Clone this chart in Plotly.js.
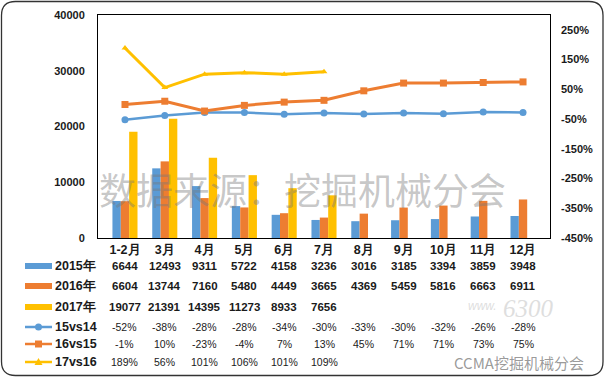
<!DOCTYPE html>
<html><head><meta charset="utf-8">
<script src="https://cdn.plot.ly/plotly-3.0.1.min.js"></script>
<style>html,body{margin:0;padding:0;background:#fff;}#chart{width:605px;height:378px;}</style>
</head><body><div id="chart"></div>
<script>
var categories = ['1-2月','3月','4月','5月','6月','7月','8月','9月','10月','11月','12月'];
var sales2015 = [6644,12493,9311,5722,4158,3236,3016,3185,3394,3859,3948];
var sales2016 = [6604,13744,7160,5480,4449,3665,4369,5459,5816,6663,6911];
var sales2017 = [19077,21391,14395,11273,8933,7656,null,null,null,null,null];
var g15vs14 = [-52,-38,-28,-28,-34,-30,-33,-30,-32,-26,-28];
var g16vs15 = [-1,10,-23,-4,7,13,45,71,71,73,75];
var g17vs16 = [189,56,101,106,101,109,null,null,null,null,null];
var seriesNames = ['2015年','2016年','2017年','15vs14','16vs15','17vs16'];
var leftTicks = [0,10000,20000,30000,40000];
var rightTicks = [-450,-350,-250,-150,-50,50,150,250];
var rightTickText = rightTicks.map(function(v){return v+'%';});
var leftTickText = leftTicks.map(function(v){return String(v);});

var BLUE='#5B9BD5', ORANGE='#ED7D31', YELLOW='#FFC000';
var FONT='Liberation Sans, Arial, sans-serif';
var TXT='#1a1a1a';

var traces = [
  {type:'bar', name:seriesNames[0], x:categories, y:sales2015, marker:{color:BLUE}, yaxis:'y'},
  {type:'bar', name:seriesNames[1], x:categories, y:sales2016, marker:{color:ORANGE}, yaxis:'y'},
  {type:'bar', name:seriesNames[2], x:categories, y:sales2017, marker:{color:YELLOW}, yaxis:'y'},
  {type:'scatter', mode:'lines+markers', name:seriesNames[3], x:categories, y:g15vs14, yaxis:'y2',
   line:{color:BLUE,width:2.5}, marker:{symbol:'circle',size:7,color:BLUE}},
  {type:'scatter', mode:'lines+markers', name:seriesNames[4], x:categories, y:g16vs15, yaxis:'y2',
   line:{color:ORANGE,width:3}, marker:{symbol:'square',size:7,color:ORANGE}},
  {type:'scatter', mode:'lines+markers', name:seriesNames[5], x:categories, y:g17vs16, yaxis:'y2',
   line:{color:YELLOW,width:3}, marker:{symbol:'triangle-up',size:6,color:YELLOW}}
];

// pixel helpers (plot area: x 98..550, y 15..238)
var PL=98, PW=452, PB=238, PH=223;
function px(x){return (x-PL)/PW;}
function py(y){return (PB-y)/PH;}

var rowY = [266,286,307,327,344,362];
var rows = [sales2015,sales2016,sales2017,g15vs14,g16vs15,g17vs16];
var annotations = [];
rows.forEach(function(arr, r){
  var isPct = r>=3;
  arr.forEach(function(v,i){
    if(v===null) return;
    annotations.push({xref:'x', yref:'paper', x:categories[i], y:py(rowY[r]), xanchor:'center', yanchor:'middle',
      text: isPct ? (v+'%') : String(v), showarrow:false,
      font:{family:FONT, size:isPct?10.5:11.5, color:TXT, weight:isPct?'normal':'bold'}});
  });
  annotations.push({xref:'paper', yref:'paper', x:px(53), y:py(rowY[r]), xanchor:'left', yanchor:'middle',
    text:seriesNames[r], showarrow:false, font:{family:FONT, size:12.5, color:TXT, weight:'bold'}});
});
// watermarks
annotations.push({xref:'paper', yref:'paper', x:px(302), y:py(189), xanchor:'center', yanchor:'middle',
  text:'数据来源：挖掘机械分会', showarrow:false, font:{family:'Noto Sans CJK SC', size:37, color:'rgba(120,120,120,0.42)'}});
annotations.push({xref:'paper', yref:'paper', x:px(528), y:py(308), xanchor:'center', yanchor:'middle',
  text:'<i>6300</i>', showarrow:false, font:{family:'Liberation Serif', size:25, color:'rgba(190,190,190,0.5)'}});
annotations.push({xref:'paper', yref:'paper', x:px(482), y:py(306), xanchor:'center', yanchor:'middle',
  text:'<i>www.</i>', showarrow:false, font:{family:FONT, size:12, color:'rgba(200,200,200,0.6)'}});
annotations.push({xref:'paper', yref:'paper', x:px(519), y:py(362), xanchor:'center', yanchor:'middle',
  text:'CCMA挖掘机械分会', showarrow:false, font:{family:'Noto Sans CJK SC', size:15, color:'rgba(110,110,110,0.7)'}});

var colors=[BLUE,ORANGE,YELLOW,BLUE,ORANGE,YELLOW];
var shapes=[];
var kx0=px(25), kx1=px(52), kxm=px(38.5);
for(var r=0;r<6;r++){
  var yc=py(rowY[r]);
  if(r<3){
    shapes.push({type:'rect', xref:'paper', yref:'paper', x0:kx0, x1:kx1, y0:yc-3/PH, y1:yc+3/PH,
      fillcolor:colors[r], line:{width:0}});
  } else {
    shapes.push({type:'line', xref:'paper', yref:'paper', x0:kx0, x1:kx1, y0:yc, y1:yc, line:{color:colors[r], width:2.5}});
    if(r===3){
      shapes.push({type:'circle', xref:'paper', yref:'paper', x0:kxm-3.5/PW, x1:kxm+3.5/PW, y0:yc-3.5/PH, y1:yc+3.5/PH,
        fillcolor:colors[r], line:{width:0}});
    } else if(r===4){
      shapes.push({type:'rect', xref:'paper', yref:'paper', x0:kxm-3.5/PW, x1:kxm+3.5/PW, y0:yc-3.5/PH, y1:yc+3.5/PH,
        fillcolor:colors[r], line:{width:0}});
    } else {
      var a=px(34.5), b=px(42.5), c=kxm, yt=yc+4/PH, yb=yc-3/PH;
      shapes.push({type:'path', xref:'paper', yref:'paper', path:'M'+a+','+yb+' L'+b+','+yb+' L'+c+','+yt+' Z',
        fillcolor:colors[r], line:{width:0}});
    }
  }
}
// rounded outer border
(function(){
  var L=px(1.5), R=px(603), T=py(1.5), B=py(375.5), rx=14/PW, ry=14/PH;
  var p='M'+(L+rx)+','+T+' L'+(R-rx)+','+T+' Q'+R+','+T+' '+R+','+(T-ry)+
        ' L'+R+','+(B+ry)+' Q'+R+','+B+' '+(R-rx)+','+B+
        ' L'+(L+rx)+','+B+' Q'+L+','+B+' '+L+','+(B+ry)+
        ' L'+L+','+(T-ry)+' Q'+L+','+T+' '+(L+rx)+','+T+' Z';
  shapes.push({type:'path', xref:'paper', yref:'paper', path:p, line:{color:'#333', width:1.3}, layer:'below'});
})();

var layout = {
  width:605, height:378,
  margin:{l:98, r:55, t:15, b:140, pad:0},
  paper_bgcolor:'#fff', plot_bgcolor:'#fff',
  showlegend:false,
  barmode:'group', bargap:0.37, bargroupgap:0,
  font:{family:FONT, color:TXT},
  xaxis:{type:'category', showline:true, mirror:true, linecolor:'#000', linewidth:1, showgrid:false,
    ticks:'', tickfont:{family:FONT, size:12.5, color:TXT, weight:'bold'}, ticklabelstandoff:0, zeroline:false},
  yaxis:{range:[0,40000], tickmode:'array', tickvals:leftTicks, ticktext:leftTickText, showline:true, mirror:true, linecolor:'#000', linewidth:1,
    showgrid:false, zeroline:false, ticks:'', tickfont:{family:FONT, size:11, color:TXT, weight:'bold'},
    ticklabelstandoff:10},
  yaxis2:{overlaying:'y', side:'right', range:[-450,300], tickmode:'array', tickvals:rightTicks, ticktext:rightTickText, showgrid:false,
    zeroline:false, showline:false, ticks:'', tickfont:{family:FONT, size:11, color:TXT, weight:'bold'},
    ticklabelstandoff:10},
  annotations:annotations,
  shapes:shapes
};
Plotly.newPlot('chart', traces, layout, {staticPlot:true, displayModeBar:false});
</script></body></html>
